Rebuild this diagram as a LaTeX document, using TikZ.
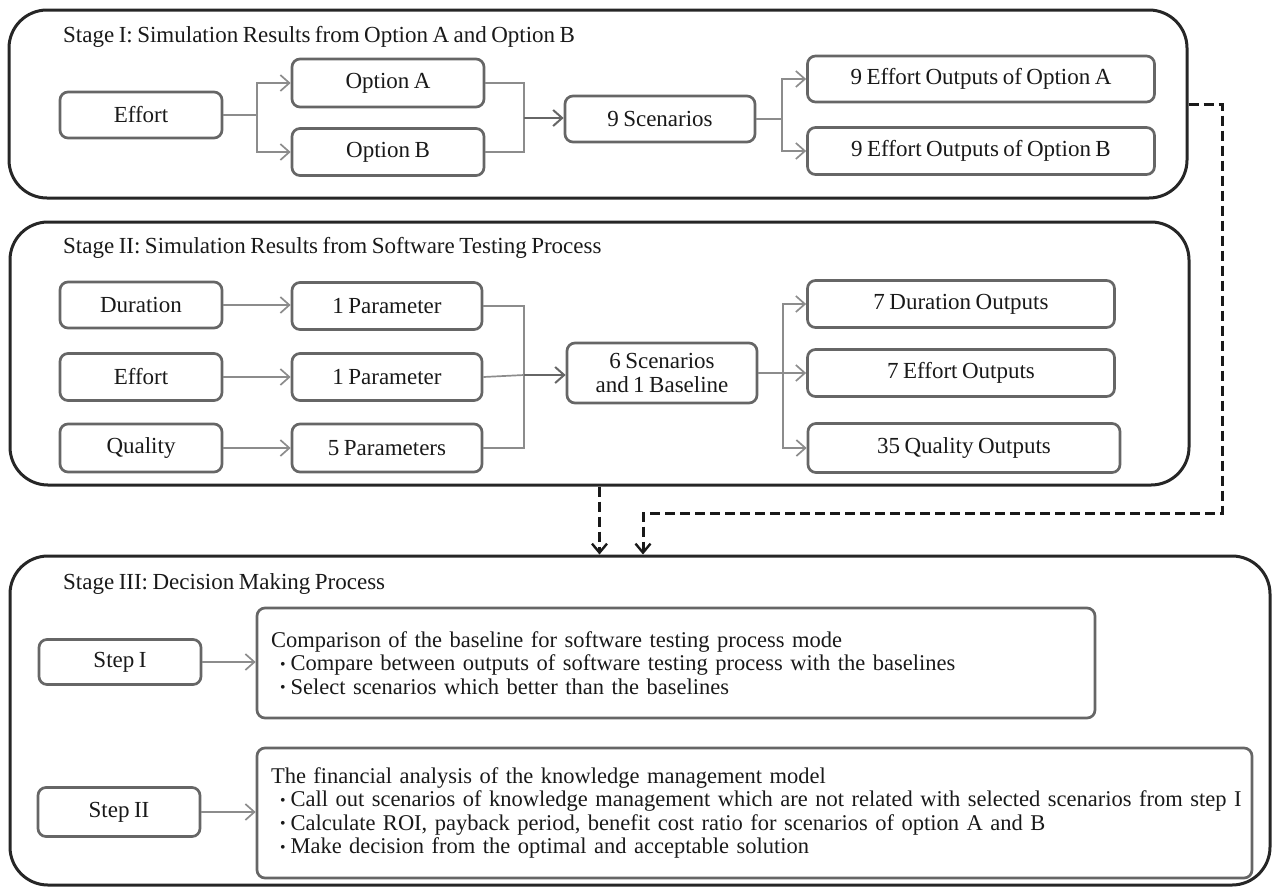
\documentclass[tikz,border=0pt]{standalone}
\usepackage{fontspec}
\setmainfont[WordSpace=0.78]{Liberation Serif}
\usetikzlibrary{arrows.meta}
\newcommand\figfont{\fontsize{23}{23.5}\selectfont}
\newcommand\detailfont{\fontsize{22.5}{23.5}\selectfont}
\newcommand\bul{\hspace*{9pt}\raisebox{1.5pt}{\scalebox{0.7}{•}}\hspace{5pt}}
\begin{document}
\begin{tikzpicture}[x=1pt,y=-1pt,
  stage/.style={draw=black!85, line width=3pt, rounded corners=38pt, inner sep=0pt},
  box/.style={draw=black!60, line width=2.7pt, rounded corners=8pt, inner sep=0pt,
    font=\figfont, align=center, text=black!90},
  title/.style={anchor=west, inner sep=0pt, font=\figfont, text=black!90},
  detail/.style={box, align=left, inner xsep=14pt, font=\detailfont},
  link/.style={draw=black!45, line width=1.7pt},
  arr/.style={link, -{Straight Barb[length=9pt,width=16pt,line width=1.7pt]}},
  mainarr/.style={draw=black!60, line width=2.3pt, -{Straight Barb[length=9pt,width=16pt,line width=2pt]}},
  flow/.style={draw=black!90, line width=3pt, dash pattern=on 10pt off 5pt,
    -{Straight Barb[length=9pt,width=15pt,line width=2.4pt]}}
]
\useasboundingbox (0,0) rectangle (1273,887);

% ---------- Stage I ----------
\node[stage, minimum width=1178pt, minimum height=188pt] (st1) at (598,104) {};
\node[title] (t1) at (63,37) {Stage I: Simulation Results from Option A and Option B};
\node[box, minimum width=162pt, minimum height=46pt] (eff) at (141,115) {Effort};
\node[box, minimum width=192pt, minimum height=48pt] (optA) at (388,83) {Option A};
\node[box, minimum width=192pt, minimum height=47pt] (optB) at (388,152) {Option B};
\node[box, minimum width=190pt, minimum height=46pt] (scen) at (660,119) {9 Scenarios};
\node[box, minimum width=347pt, minimum height=46pt] (outA) at (981,79) {9 Effort Outputs of Option A};
\node[box, minimum width=347pt, minimum height=47pt] (outB) at (981,151) {9 Effort Outputs of Option B};

\coordinate (b1) at (257,115);
\coordinate (m1) at (524,118);
\coordinate (b2) at (782,119);
\draw[link] (eff.east) -- (b1);
\draw[arr] (b1) |- (optA.west);
\draw[arr] (b1) |- (optB.west);
\draw[link] (optA.east) -| (m1);
\draw[link] (optB.east) -| (m1);
\draw[mainarr] (m1) -- (m1 -| scen.west);
\draw[link] (scen.east) -- (b2);
\draw[arr] (b2) |- (outA.west);
\draw[arr] (b2) |- (outB.west);

% ---------- Stage II ----------
\node[stage, minimum width=1179pt, minimum height=263pt] (st2) at (599.5,353.5) {};
\node[title] (t2) at (63,248) {Stage II: Simulation Results from Software Testing Process};
\node[box, minimum width=162pt, minimum height=46pt] (dur) at (141,305) {Duration};
\node[box, minimum width=190pt, minimum height=47pt] (p1) at (387,306) {1 Parameter};
\node[box, minimum width=162pt, minimum height=47pt] (eff2) at (141,377) {Effort};
\node[box, minimum width=190pt, minimum height=47pt] (p2) at (387,377) {1 Parameter};
\node[box, minimum width=162pt, minimum height=48pt] (qual) at (141,448) {Quality};
\node[box, minimum width=190pt, minimum height=48pt] (p5) at (387,448) {5 Parameters};
\node[box, minimum width=190pt, minimum height=60pt] (sc2) at (662,373) {6 Scenarios\\and 1 Baseline};
\node[box, minimum width=307pt, minimum height=47pt] (o1) at (961,304) {7 Duration Outputs};
\node[box, minimum width=307pt, minimum height=47pt] (o2) at (961,373) {7 Effort Outputs};
\node[box, minimum width=312pt, minimum height=49pt] (o3) at (964,448) {35 Quality Outputs};

\draw[arr] (dur.east) -- (dur.east -| p1.west);
\draw[arr] (eff2.east) -- (eff2.east -| p2.west);
\draw[arr] (qual.east) -- (qual.east -| p5.west);
\coordinate (m2) at (524,375);
\coordinate (b3) at (783,373);
\draw[link] (p1.east) -| (m2);
\draw[link] (p5.east) -| (m2);
\draw[link] (p2.east) -- (m2);
\draw[mainarr] (m2) -- (m2 -| sc2.west);
\draw[link] (sc2.east) -- (b3);
\draw[arr] (b3) |- (o1.west);
\draw[arr] (b3) -- (o2.west);
\draw[arr] (b3) |- (o3.west);

% ---------- Stage III ----------
\node[stage, minimum width=1260pt, minimum height=329pt] (st3) at (640,720.5) {};
\node[title] (t3) at (63,584) {Stage III: Decision Making Process};
\node[box, minimum width=162pt, minimum height=45pt] (s1) at (120,662) {Step I};
\node[box, minimum width=162pt, minimum height=49pt] (s2) at (119,812) {Step II};
\node[detail, text width=810pt, minimum height=110pt] (d1) at (676,663)
  {Comparison of the baseline for software testing process mode\\
   \bul Compare between outputs of software testing process with the baselines\\
   \bul Select scenarios which better than the baselines};
\node[detail, text width=967pt, minimum height=130pt] (d2) at (754.5,813)
  {The financial analysis of the knowledge management model\\
   \mbox{\bul Call out scenarios of knowledge management which are not related with selected scenarios from step I}\\
   \bul Calculate ROI, payback period, benefit cost ratio for scenarios of option A and B\\
   \bul Make decision from the optimal and acceptable solution};
\draw[arr] (s1.east) -- (s1.east -| d1.west);
\draw[arr] (s2.east) -- (s2.east -| d2.west);

% ---------- results flowing into Stage III ----------
\coordinate (c1) at (1222,513);
\coordinate (c2) at (643,513);
\draw[flow] (st1.east) -| (c1) -- (c2) -- (c2 |- st3.north);
\draw[flow] (st2.south) -- (st2.south |- st3.north);
\end{tikzpicture}
\end{document}
